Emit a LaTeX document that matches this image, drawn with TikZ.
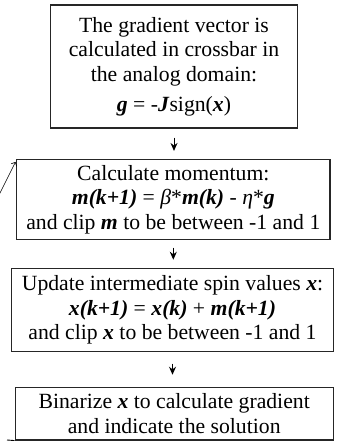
\documentclass[tikz,border=0pt]{standalone}
\usepackage{fontspec}
\setmainfont{Liberation Serif}
\usetikzlibrary{calc,arrows.meta}
\tikzstyle{stepbox}=[draw=black!85, line width=1.1pt, inner sep=0, align=center, font=\fontsize{21.7}{24.6}\selectfont]
\tikzstyle{flowarr}=[-{Stealth[length=8pt,width=7pt]}, line width=1pt]
\newcommand{\bv}[1]{\textbf{\textit{#1}}}

\begin{document}
\begin{tikzpicture}[x=1pt,y=1pt]
\useasboundingbox (0,0) rectangle (337,441);
\node[stepbox, minimum width=246.6pt, minimum height=123pt] (B1) at (174,374.5)
{The gradient vector is\\ calculated in crossbar in\\ the analog domain:\\[5pt] \bv{g} = -\bv{J}sign(\bv{x})};
\node[stepbox, minimum width=313.3pt, minimum height=80pt] (B2) at (173.3,241.5)
{Calculate momentum:\\ \bv{m(k+1)} = \textit{β}*\bv{m(k)} - \textit{η}*\bv{g}\\ and clip \bv{m} to be between -1 and 1};
\node[stepbox, minimum width=321.6pt, minimum height=83.4pt] (B3) at (172.5,131)
{Update intermediate spin values \bv{x}:\\ \bv{x(k+1)} = \bv{x(k)} + \bv{m(k+1)}\\ and clip \bv{x} to be between -1 and 1};
\node[stepbox, minimum width=318.3pt, minimum height=52.7pt] (B4) at (174.2,27.35)
{Binarize \bv{x} to calculate gradient\\ and indicate the solution};
\draw[flowarr, shorten <=9pt, shorten >=8pt] (B1.south) -- (B1.south |- B2.north);
\draw[flowarr, shorten <=7.5pt, shorten >=8pt] (B2.south) -- (B2.south |- B3.north);
\draw[flowarr, shorten <=11.3pt, shorten >=12pt] (B3.south) -- (B3.south |- B4.north);
% loop back, cut at the left edge
\coordinate (L1) at (7,1);
\coordinate (L2) at (-3,242);
\coordinate (L3) at (15.5,279);
\draw[line width=0.9pt] (B4.south west) -- (L1);
\draw[-{Straight Barb[length=3pt]}, line width=0.6pt] (L2) -- (L3);
\end{tikzpicture}
\end{document}
